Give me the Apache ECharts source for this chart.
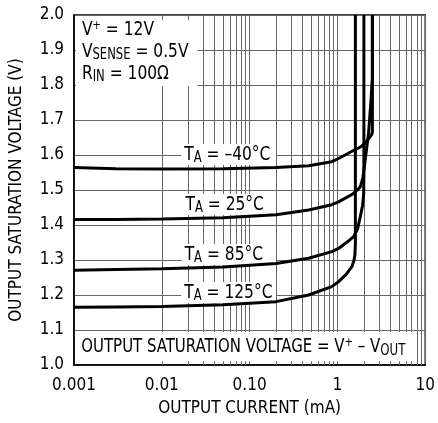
<!DOCTYPE html>
<html><head><meta charset="utf-8">
<script src="https://cdn.jsdelivr.net/npm/echarts@6/dist/echarts.min.js"></script>
<style>html,body{margin:0;padding:0;background:#fff}#c{width:438px;height:423px}</style>
</head><body><div id="c"></div>
<script>
const FONT = "'DejaVu Sans Condensed','Liberation Sans Narrow','Arial Narrow',sans-serif";

// Tick labels
const xTickLabels = ['0.001', '0.01', '0.10', '1', '10'];
const yTickValues = [1.0, 1.1, 1.2, 1.3, 1.4, 1.5, 1.6, 1.7, 1.8, 1.9, 2.0];

// Series: [output current (mA), output saturation voltage (V)]
const curveNames = ['–40°C', '25°C', '85°C', '125°C'];
const tMinus40 = [[0.001,1.564],[0.003,1.561],[0.01,1.560],[0.05,1.561],[0.2,1.564],[0.47,1.569],[0.86,1.581],[1.03,1.590],[1.45,1.610],[1.74,1.620],[1.9,1.626],[2.1,1.636],[2.26,1.646],[2.45,1.658],[2.5,1.665],[2.5,2.0]];
const t25 = [[0.001,1.416],[0.003,1.416],[0.01,1.417],[0.05,1.421],[0.2,1.429],[0.47,1.443],[0.86,1.458],[1.03,1.466],[1.46,1.487],[1.65,1.498],[1.82,1.509],[1.95,1.535],[2.07,1.586],[2.26,1.662],[2.4,1.75],[2.5,1.82],[2.5,2.0]];
const t85 = [[0.001,1.271],[0.003,1.273],[0.01,1.275],[0.05,1.280],[0.2,1.290],[0.47,1.305],[0.86,1.324],[1.03,1.333],[1.3,1.352],[1.53,1.367],[1.7,1.390],[1.82,1.424],[1.93,1.455],[1.99,1.490],[2.0,1.55],[2.0,2.0]];
const t125 = [[0.001,1.165],[0.003,1.166],[0.01,1.167],[0.05,1.172],[0.2,1.181],[0.47,1.200],[0.86,1.224],[1.03,1.238],[1.25,1.258],[1.46,1.281],[1.54,1.298],[1.58,1.315],[1.6,1.345],[1.6,2.0]];
const seriesData = [tMinus40, t25, t85, t125];

// Label anchors in data space: [left x (mA), vertical centre (V)], right edge of white box (mA)
const labelAnchors = [[0.0180,1.600],[0.0186,1.457],[0.0182,1.314],[0.0180,1.206]];
const labelBoxRight = [0.199, 0.146, 0.199, 0.199];

// Minor log grid
const decades = [0.001, 0.01, 0.1, 1];
const multipliers = [2,3,4,5,6,7,8,9];
const minorLines = [];
decades.forEach(d => multipliers.forEach(m => minorLines.push({xAxis: +(d*m).toPrecision(3)})));

const GRID = '#666';
const chart = echarts.init(document.getElementById('c'));

const series = seriesData.map((d, i) => ({
  name: curveNames[i], type: 'line', data: d, showSymbol: false, symbol: 'none',
  lineStyle: {color: '#000', width: 3}, z: 60, silent: true, animation: false
}));
series.unshift({
  type: 'line', data: [[0.001, 1.0]], symbol: 'none', lineStyle: {opacity: 0}, z: 1, silent: true,
  markLine: {silent: true, symbol: ['none','none'], animation: false, label: {show: false},
    lineStyle: {color: GRID, width: 1, type: 'solid'}, emphasis: {disabled: true}, data: minorLines}
});

chart.setOption({
  animation: false,
  backgroundColor: '#fff',
  grid: {left: 74, right: 11, top: 15, bottom: 58, show: true, borderColor: '#000', borderWidth: 1.5, backgroundColor: 'transparent'},
  xAxis: {
    type: 'log', logBase: 10, min: 0.001, max: 10,
    name: 'OUTPUT CURRENT (mA)', nameLocation: 'middle', nameGap: 35,
    nameTextStyle: {fontFamily: FONT, fontSize: 17, color: '#000'},
    axisLine: {lineStyle: {color: '#000', width: 1.5}},
    axisTick: {show: false},
    axisLabel: {fontFamily: FONT, fontSize: 17, color: '#000', margin: 12,
      formatter: v => xTickLabels[Math.round(Math.log10(v)) + 3]},
    splitLine: {show: true, lineStyle: {color: GRID, width: 1}}
  },
  yAxis: {
    type: 'value', min: 1.0, max: 2.0, interval: 0.1,
    name: 'OUTPUT SATURATION VOLTAGE (V)', nameLocation: 'middle', nameGap: 49,
    nameTextStyle: {fontFamily: FONT, fontSize: 17, color: '#000'},
    axisLine: {show: true, lineStyle: {color: '#000', width: 1.5}},
    axisTick: {show: false},
    axisLabel: {fontFamily: FONT, fontSize: 17, color: '#000', margin: 10,
      formatter: v => yTickValues.find(t => Math.abs(t - v) < 1e-6).toFixed(1)},
    splitLine: {show: true, lineStyle: {color: GRID, width: 1}}
  },
  series: series
});

function px(p) { return chart.convertToPixel({gridIndex: 0}, p); }
const rich = {
  n: {fontFamily: FONT, fontSize: 20, color: '#000', lineHeight: 22, verticalAlign: 'middle'},
  m: {fontFamily: FONT, fontSize: 19, color: '#000', lineHeight: 22, verticalAlign: 'middle'},
  sub: {fontFamily: FONT, fontSize: 15, color: '#000', lineHeight: 11, verticalAlign: 'bottom'},
  sup: {fontFamily: FONT, fontSize: 13, color: '#000', lineHeight: 11, verticalAlign: 'top'}
};
const SX = 0.86;
const graphics = [];
// top-left condition box
const tl1 = px([0.001053, 1.986]), tl2 = px([0.0254, 1.797]);
graphics.push({type: 'rect', z: 50, shape: {x: tl1[0], y: tl1[1], width: tl2[0]-tl1[0], height: tl2[1]-tl1[1]}, style: {fill: '#fff'}});
const tlText = px([0.00123, 1.986]);
graphics.push({type: 'text', z: 51, x: tlText[0], y: tlText[1] - 1, scaleX: SX, style: {
  text: '{n|V}{sup|+}{n| = 12V}\n{n|V}{sub|SENSE}{n| = 0.5V}\n{n|R}{sub|IN}{n| = 100Ω}',
  rich: rich, fill: '#000', align: 'left', verticalAlign: 'top', lineHeight: 22.5}});
// bottom box
const b1 = px([0.001053, 1.094]), b2 = px([7.5, 1.011]);
graphics.push({type: 'rect', z: 50, shape: {x: b1[0], y: b1[1], width: b2[0]-b1[0], height: b2[1]-b1[1]}, style: {fill: '#fff'}});
const bt = px([0.00121, 1.051]);
graphics.push({type: 'text', z: 51, x: bt[0], y: bt[1], scaleX: 0.875, style: {
  text: '{m|OUTPUT SATURATION VOLTAGE = V}{sup|+}{m| – V}{sub|OUT}',
  rich: rich, align: 'left', verticalAlign: 'middle'}});
// curve labels
labelAnchors.forEach((a, i) => {
  const p = px(a);
  const r = px([labelBoxRight[i], a[1]]);
  graphics.push({type: 'rect', z: 50, shape: {x: p[0] - 3, y: p[1] - 11, width: r[0] - p[0] + 3, height: 21}, style: {fill: '#fff'}});
  graphics.push({type: 'text', z: 51, x: p[0], y: p[1], scaleX: SX, style: {
    text: '{n|T}{sub|A}{n| = ' + curveNames[i] + '}',
    rich: rich, align: 'left', verticalAlign: 'middle'}});
});
chart.setOption({graphic: {elements: graphics}});
</script></body></html>
